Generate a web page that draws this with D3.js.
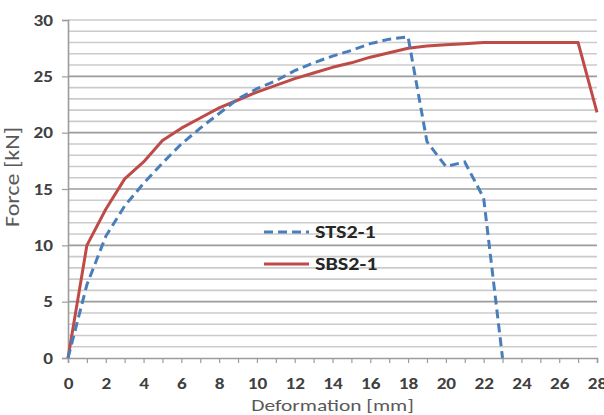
<!DOCTYPE html>
<html>
<head>
<meta charset="utf-8">
<script src="https://cdn.jsdelivr.net/npm/d3@7"></script>
<style>
  body { margin: 0; background: #fff; }
  svg text { font-family: Calibri, Carlito, "Open Sans", "Liberation Sans", sans-serif; }
</style>
</head>
<body>
<div id="chart"></div>
<script>
// data
const stsX = [0, 1, 2, 3, 4, 5, 6, 7, 8, 9, 10, 11, 12, 13, 14, 15, 16, 17, 18, 19, 20, 21, 22, 23];
const stsY = [0, 6.5, 10.8, 13.5, 15.5, 17.3, 19, 20.4, 21.7, 23, 23.9, 24.6, 25.5, 26.2, 26.8, 27.3, 27.9, 28.3, 28.5, 19.2, 17, 17.4, 14.2, 0];
const sbsX = [0, 1, 2, 3, 4, 5, 6, 7, 8, 9, 10, 11, 12, 13, 14, 15, 16, 17, 18, 19, 20, 21, 22, 27, 28];
const sbsY = [0, 10, 13.2, 15.9, 17.4, 19.3, 20.4, 21.3, 22.2, 22.9, 23.6, 24.2, 24.8, 25.3, 25.8, 26.2, 26.7, 27.1, 27.5, 27.7, 27.8, 27.9, 28, 28, 21.8];
const xTicks = [0, 2, 4, 6, 8, 10, 12, 14, 16, 18, 20, 22, 24, 26, 28];
const yTicks = [0, 5, 10, 15, 20, 25, 30];

const W = 604, H = 415;
const margin = {top: 20, right: 7, bottom: 57, left: 68};
const width = W - margin.left - margin.right;
const height = H - margin.top - margin.bottom;

const svg = d3.select("#chart").append("svg")
    .attr("width", W)
    .attr("height", H);
const g = svg.append("g")
    .attr("transform", "translate(" + margin.left + "," + margin.top + ")");

let x = d3.scaleLinear().domain([0, 28]).range([0, width]);
let y = d3.scaleLinear().domain([0, 30]).range([height, 0]);

// the source picture is a bit stretched sideways, widen text to match
function stretch(sel, k) {
    sel.each(function () {
        const len = this.getComputedTextLength();
        if (len > 0) {
            d3.select(this).attr("textLength", len * k).attr("lengthAdjust", "spacingAndGlyphs");
        }
    });
}

// gridlines, every 1 kN, darker every 5
const gridVals = d3.range(1, 31);
g.append("g").selectAll("line")
    .data(gridVals)
    .enter().append("line")
    .attr("x1", 0).attr("x2", width)
    .attr("y1", d => y(d)).attr("y2", d => y(d))
    .attr("stroke", d => d % 5 === 0 && d !== 30 ? "#9c9c9c" : "#cbcbcb")
    .attr("stroke-width", 1.6);

// axes
const yAxis = d3.axisLeft(y).tickValues(yTicks).tickSize(6).tickPadding(9);
const yg = g.append("g").call(yAxis);
const xAxis = d3.axisBottom(x).tickValues(d3.range(0, 29)).tickSize(5).tickPadding(15)
    .tickFormat(d => xTicks.includes(d) ? d : "");
const xg = g.append("g").attr("transform", "translate(0," + height + ")").call(xAxis);

[yg, xg].forEach(a => {
    a.select(".domain").attr("stroke", "#9c9c9c").attr("stroke-width", 1.6);
    a.selectAll(".tick line").attr("stroke", "#9c9c9c").attr("stroke-width", 1.2);
    a.selectAll(".tick text")
        .attr("fill", "#404040")
        .style("font-size", "16px")
        .style("font-weight", "bold")
        .call(stretch, 1.2);
});

// axis titles
svg.append("text")
    .attr("x", margin.left + width / 2)
    .attr("y", 411)
    .attr("text-anchor", "middle")
    .attr("fill", "#595959")
    .style("font-size", "16px")
    .text("Deformation [mm]")
    .call(stretch, 1.34);

svg.append("text")
    .attr("transform", "translate(19,177) rotate(-90)")
    .attr("text-anchor", "middle")
    .attr("fill", "#595959")
    .style("font-size", "20px")
    .text("Force [kN]")
    .call(stretch, 1.2);

// lines
const line = d3.line().x(d => x(d[0])).y(d => y(d[1]));
const stsData = stsX.map((d, i) => [d, stsY[i]]);
const sbsData = sbsX.map((d, i) => [d, sbsY[i]]);

g.append("path")
    .attr("d", line(sbsData))
    .attr("fill", "none")
    .attr("stroke", "#be4b48")
    .attr("stroke-width", 3)
    .attr("stroke-linejoin", "round");

g.append("path")
    .attr("d", line(stsData))
    .attr("fill", "none")
    .attr("stroke", "#4a7ebb")
    .attr("stroke-width", 3)
    .attr("stroke-dasharray", "9,5");

// legend
const legend = svg.append("g");
const items = [
    {name: "STS2-1", color: "#4a7ebb", dash: "9,5", y: 232},
    {name: "SBS2-1", color: "#be4b48", dash: null, y: 264}
];
items.forEach(it => {
    legend.append("line")
        .attr("x1", 264).attr("x2", 309)
        .attr("y1", it.y).attr("y2", it.y)
        .attr("stroke", it.color)
        .attr("stroke-width", 3)
        .attr("stroke-dasharray", it.dash);
    legend.append("text")
        .attr("x", 315).attr("y", it.y + 6)
        .attr("fill", "#262626")
        .style("font-size", "17px")
        .style("font-weight", "bold")
        .text(it.name)
        .call(stretch, 1.3);
});
</script>
</body>
</html>
